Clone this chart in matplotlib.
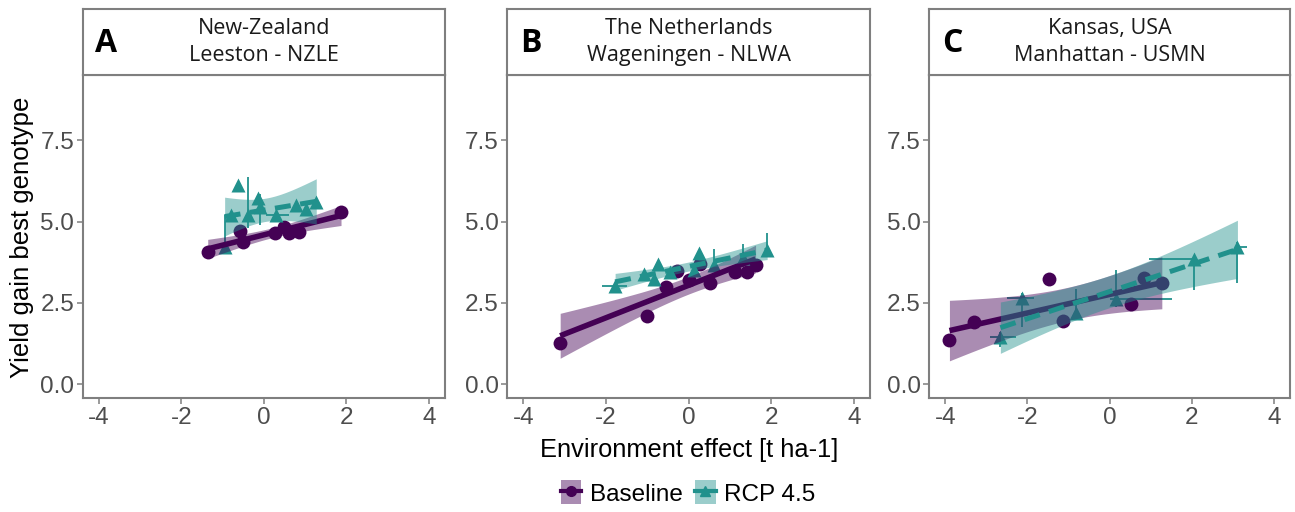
import numpy as np
import matplotlib
matplotlib.use("Agg")
import matplotlib.pyplot as plt
from matplotlib.patches import Patch
from matplotlib.lines import Line2D
from matplotlib.legend_handler import HandlerTuple

panel_letters = ["A", "B", "C"]
panel_titles = ["New-Zealand\nLeeston - NZLE",
                "The Netherlands\nWageningen - NLWA",
                "Kansas, USA\nManhattan - USMN"]
series_names = ["Baseline", "RCP 4.5"]
x_ticks = [-4, -2, 0, 2, 4]
y_ticks = [0.0, 2.5, 5.0, 7.5]
x_label = "Environment effect [t ha-1]"
y_label = "Yield gain best genotype"

# ---- Panel A ----
a_base_x = [-1.36, -0.59, -0.51, 0.26, 0.50, 0.62, 0.86, 1.87]
a_base_y = [4.05, 4.71, 4.38, 4.64, 4.84, 4.64, 4.69, 5.30]
a_rcp_x = [-0.95, -0.79, -0.63, -0.39, -0.15, -0.10, 0.30, 0.78, 1.03, 1.27]
a_rcp_y = [4.22, 5.20, 6.12, 5.20, 5.71, 5.45, 5.20, 5.50, 5.40, 5.61]
a_rcp_xlo = [-0.95, -0.95, -0.63, -0.39, -0.15, -0.10, 0.05, 0.78, 1.03, 1.27]
a_rcp_xhi = [-0.95, -0.60, -0.63, -0.39, -0.15, -0.10, 0.60, 0.78, 1.03, 1.27]
a_rcp_ylo = [4.22, 5.20, 6.12, 4.79, 5.71, 4.90, 5.20, 5.50, 5.40, 5.61]
a_rcp_yhi = [5.20, 5.20, 6.12, 6.38, 5.71, 5.85, 5.20, 5.50, 5.40, 5.61]

# ---- Panel B ----
b_base_x = [-3.11, -1.01, -0.55, -0.28, 0.00, 0.28, 0.51, 1.13, 1.42, 1.62]
b_base_y = [1.27, 2.09, 2.98, 3.48, 3.20, 3.69, 3.10, 3.46, 3.46, 3.66]
b_rcp_x = [-1.78, -1.09, -0.85, -0.74, -0.44, 0.12, 0.26, 0.61, 1.32, 1.90]
b_rcp_y = [3.02, 3.38, 3.22, 3.69, 3.46, 3.51, 4.04, 3.66, 3.87, 4.12]
b_rcp_xlo = [-2.10, -1.09, -0.85, -0.74, -0.56, 0.12, 0.26, 0.61, 1.32, 1.90]
b_rcp_xhi = [-1.49, -1.09, -0.85, -0.74, -0.16, 0.12, 0.26, 0.61, 1.32, 1.90]
b_rcp_ylo = [2.95, 3.38, 3.22, 3.69, 3.46, 3.51, 4.04, 3.45, 3.60, 3.97]
b_rcp_yhi = [3.10, 3.38, 3.22, 3.69, 3.46, 3.51, 4.10, 4.14, 4.30, 4.64]

# ---- Panel C ----
c_base_x = [-3.90, -3.29, -1.48, -1.14, 0.53, 0.84, 1.27]
c_base_y = [1.35, 1.92, 3.22, 1.95, 2.46, 3.25, 3.10]
c_rcp_x = [-2.66, -2.13, -0.82, 0.15, 2.06, 3.11]
c_rcp_y = [1.46, 2.64, 2.18, 2.61, 3.84, 4.22]
c_rcp_xlo = [-2.92, -2.49, -0.82, 0.00, 0.96, 3.11]
c_rcp_xhi = [-2.28, -1.83, -0.82, 1.52, 2.06, 3.34]
c_rcp_ylo = [1.15, 1.76, 2.07, 2.38, 2.89, 3.10]
c_rcp_yhi = [1.60, 2.81, 2.92, 3.51, 3.84, 4.38]

base_color = "#440154"
rcp_color = "#21918c"
band_alpha = 0.45
border_color = "#7f7f7f"
tick_color = "#4d4d4d"

T95 = {3: 3.182, 4: 2.776, 5: 2.571, 6: 2.447, 7: 2.365, 8: 2.306,
       9: 2.262, 10: 2.228, 11: 2.201, 12: 2.179}


def smooth(x, y, n=80):
    x = np.asarray(x, float)
    y = np.asarray(y, float)
    b, a = np.polyfit(x, y, 1)
    xs = np.linspace(x.min(), x.max(), n)
    fit = a + b * xs
    resid = y - (a + b * x)
    df = len(x) - 2
    s2 = np.sum(resid ** 2) / df
    sxx = np.sum((x - x.mean()) ** 2)
    se = np.sqrt(s2 * (1.0 / len(x) + (xs - x.mean()) ** 2 / sxx))
    t = T95.get(df, 2.0)
    return xs, fit, fit - t * se, fit + t * se


panels = [
    (a_base_x, a_base_y, a_rcp_x, a_rcp_y, a_rcp_xlo, a_rcp_xhi, a_rcp_ylo, a_rcp_yhi),
    (b_base_x, b_base_y, b_rcp_x, b_rcp_y, b_rcp_xlo, b_rcp_xhi, b_rcp_ylo, b_rcp_yhi),
    (c_base_x, c_base_y, c_rcp_x, c_rcp_y, c_rcp_xlo, c_rcp_xhi, c_rcp_ylo, c_rcp_yhi),
]

W, H = 1295, 512
fig = plt.figure(figsize=(W / 100, H / 100), dpi=100)

lefts = [82.7, 507.3, 929.3]
rights = [445.0, 870.0, 1290.0]
plot_top, plot_bot, strip_top = 75.0, 398.3, 9.0

tick_font = "Liberation Sans"
strip_font = "Open Sans"

for i, (bx, by, rx, ry, rxlo, rxhi, rylo, ryhi) in enumerate(panels):
    l = lefts[i] / W
    w = (rights[i] - lefts[i]) / W
    ax = fig.add_axes([l, (H - plot_bot) / H, w, (plot_bot - plot_top) / H])
    sax = fig.add_axes([l, (H - plot_top) / H, w, (plot_top - strip_top) / H])

    # error bars (RCP)
    rx_a = np.asarray(rx); ry_a = np.asarray(ry)
    xerr = [rx_a - np.asarray(rxlo), np.asarray(rxhi) - rx_a]
    yerr = [ry_a - np.asarray(rylo), np.asarray(ryhi) - ry_a]
    ax.errorbar(rx_a, ry_a, xerr=xerr, yerr=yerr, fmt="none",
                ecolor=rcp_color, elinewidth=1.3, capsize=0, zorder=2)
    # points
    ax.plot(bx, by, "o", color=base_color, ms=10, mec="none", zorder=3)
    ax.plot(rx, ry, "^", color=rcp_color, ms=10.5, mec="none", zorder=3)

    # smooths
    xs, fit, lo, hi = smooth(bx, by)
    ax.fill_between(xs, lo, hi, color=base_color, alpha=band_alpha, lw=0, zorder=4)
    ax.plot(xs, fit, color=base_color, lw=4, solid_capstyle="butt", zorder=5)
    xs, fit, lo, hi = smooth(rx, ry)
    ax.fill_between(xs, lo, hi, color=rcp_color, alpha=band_alpha, lw=0, zorder=6)
    ax.plot(xs, fit, color=rcp_color, lw=3.6, linestyle=(0, (3.2, 1.9)),
            dash_capstyle="butt", zorder=7)

    ax.set_xlim(-4.39, 4.39)
    ax.set_ylim(-0.44, 9.51)
    ax.set_xticks(x_ticks)
    ax.set_xticklabels([f"{v:d}" for v in x_ticks])
    ax.set_yticks(y_ticks)
    ax.set_yticklabels([f"{v:.1f}" for v in y_ticks])
    ax.tick_params(length=4, width=1.1, color=border_color, labelcolor=tick_color,
                   labelsize=17.5, pad=2)
    for lab in ax.get_xticklabels() + ax.get_yticklabels():
        lab.set_fontfamily(tick_font)
    for sp in ax.spines.values():
        sp.set_color(border_color)
        sp.set_linewidth(1.5)

    sax.set_xticks([]); sax.set_yticks([])
    sax.set_xlim(0, 1); sax.set_ylim(0, 1)
    for sp in sax.spines.values():
        sp.set_color(border_color)
        sp.set_linewidth(1.5)
    sax.text(0.5, 0.5, panel_titles[i], ha="center", va="center",
             fontsize=15.5, family=strip_font, color="#1a1a1a", linespacing=1.4,
             transform=sax.transAxes)
    sax.text(23.5 / (rights[i] - lefts[i]), 0.48, panel_letters[i], ha="center",
             va="center", fontsize=23, fontweight="bold", family=strip_font,
             color="black", transform=sax.transAxes)

    if i == 0:
        fig.text(22 / W, 1 - 237 / H, y_label, rotation=90, ha="center", va="center",
                 fontsize=18.5, family=tick_font, color="black")
    if i == 1:
        fig.text((lefts[1] + rights[1]) / 2 / W, 1 - 450 / H, x_label, ha="center",
                 va="center", fontsize=18.3, family=tick_font, color="black")

handles = [
    (Patch(facecolor=base_color, alpha=band_alpha, lw=0),
     Line2D([], [], color=base_color, lw=3, marker="o", ms=7)),
    (Patch(facecolor=rcp_color, alpha=band_alpha, lw=0),
     Line2D([], [], color=rcp_color, lw=3, marker="^", ms=7)),
]
fig.legend(handles, series_names, handler_map={tuple: HandlerTuple(ndivide=1, pad=0)},
           ncol=2, loc="center", bbox_to_anchor=(688 / W, 1 - 493 / H), frameon=False,
           prop={"family": tick_font, "size": 17.5}, handlelength=0.85, handleheight=1.15,
           handletextpad=0.35, columnspacing=0.5, borderpad=0)

fig.savefig("out.png", dpi=100)
